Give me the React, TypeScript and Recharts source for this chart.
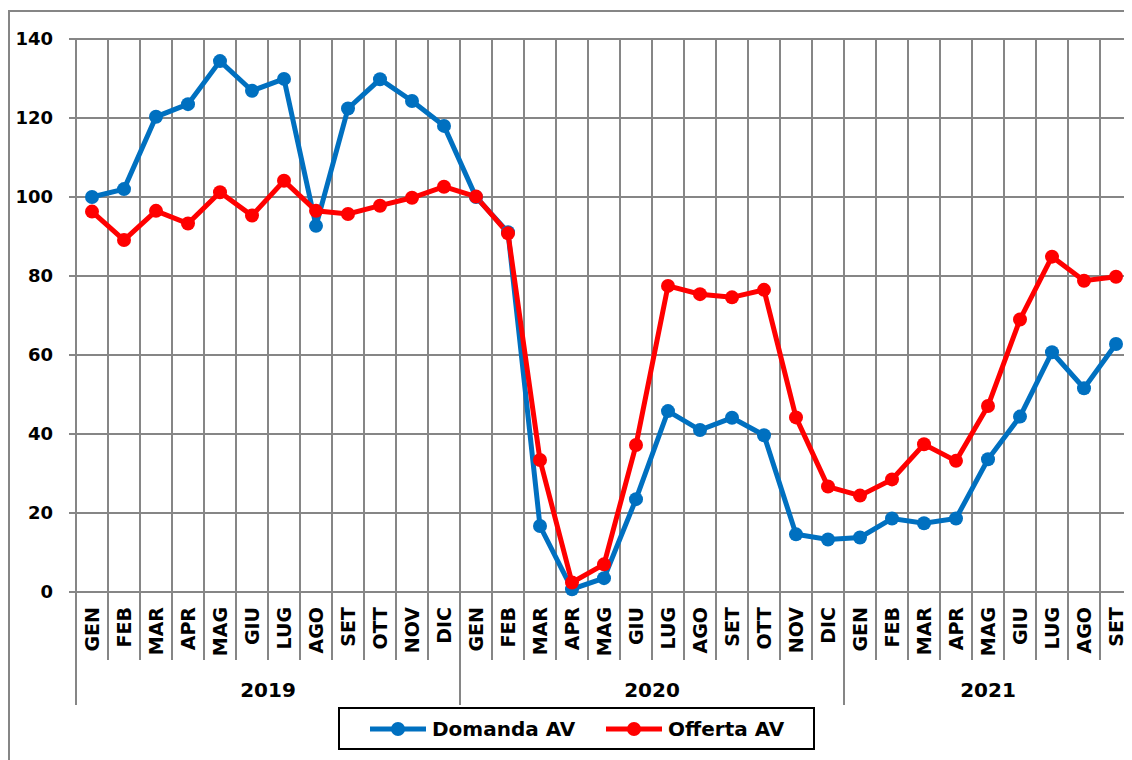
import { LineChart, Line, XAxis, YAxis, CartesianGrid } from 'recharts';

const MESI = [
  'GEN', 'FEB', 'MAR', 'APR', 'MAG', 'GIU', 'LUG', 'AGO', 'SET', 'OTT', 'NOV', 'DIC',
  'GEN', 'FEB', 'MAR', 'APR', 'MAG', 'GIU', 'LUG', 'AGO', 'SET', 'OTT', 'NOV', 'DIC',
  'GEN', 'FEB', 'MAR', 'APR', 'MAG', 'GIU', 'LUG', 'AGO', 'SET',
];

const ANNI = [
  '2019', '2019', '2019', '2019', '2019', '2019', '2019', '2019', '2019', '2019', '2019', '2019',
  '2020', '2020', '2020', '2020', '2020', '2020', '2020', '2020', '2020', '2020', '2020', '2020',
  '2021', '2021', '2021', '2021', '2021', '2021', '2021', '2021', '2021',
];

const DOMANDA = [
  100, 102, 120.3, 123.5, 134.4, 126.9, 129.9, 92.7, 122.4, 129.8, 124.3, 118,
  100, 91.1, 16.7, 0.7, 3.5, 23.5, 45.8, 41, 44.1, 39.7, 14.6, 13.3,
  13.8, 18.6, 17.4, 18.6, 33.6, 44.4, 60.7, 51.6, 62.8,
];

const OFFERTA = [
  96.3, 89.1, 96.5, 93.3, 101.2, 95.3, 104.1, 96.5, 95.7, 97.8, 99.8, 102.6,
  100.1, 90.8, 33.4, 2.4, 7, 37.2, 77.5, 75.4, 74.6, 76.5, 44.2, 26.7,
  24.4, 28.5, 37.4, 33.2, 47.1, 69, 84.9, 78.8, 79.8,
];

const Y_TICKS = [0, 20, 40, 60, 80, 100, 120, 140];

const SERIES = [
  { key: 'domanda', name: 'Domanda AV', color: '#0070C0' },
  { key: 'offerta', name: 'Offerta AV', color: '#FF0000' },
];

const data = MESI.map((m, i) => ({
  mese: m,
  anno: ANNI[i],
  domanda: DOMANDA[i],
  offerta: OFFERTA[i],
}));

// layout
const W = 1124;
const H = 752;
const PLOT_LEFT = 68;
const PLOT_TOP = 31;
const PLOT_W = W - PLOT_LEFT;
const PLOT_BOTTOM = 584;
const BAND = PLOT_W / MESI.length;
const GRID = '#868686';
const FONT = '"DejaVu Sans", Verdana, sans-serif';

const gridX = Array.from({ length: MESI.length + 1 }, (_, i) => PLOT_LEFT + i * BAND);

function MonthTick(props: any) {
  const { x, index, payload } = props;
  const left = x - BAND / 2;
  const isYearStart = index === 0 || ANNI[index] !== ANNI[index - 1];
  const year = ANNI[index];
  const monthsInYear = ANNI.filter((a) => a === year).length;
  return (
    <g>
      <line
        x1={left}
        x2={left}
        y1={PLOT_BOTTOM}
        y2={isYearStart ? PLOT_BOTTOM + 113 : PLOT_BOTTOM + 68}
        stroke={GRID}
        strokeWidth={2}
      />
      <text
        transform={`translate(${x + 7}, ${PLOT_BOTTOM + 15}) rotate(-90)`}
        textAnchor="end"
        fontFamily={FONT}
        fontWeight="bold"
        fontSize={19}
        fill="#000"
      >
        {payload.value}
      </text>
      {isYearStart && (
        <text
          x={left + (monthsInYear * BAND) / 2}
          y={PLOT_BOTTOM + 105}
          textAnchor="middle"
          fontFamily={FONT}
          fontWeight="bold"
          fontSize={20}
          fill="#000"
        >
          {year}
        </text>
      )}
    </g>
  );
}

function LegendBox() {
  return (
    <div
      style={{
        position: 'absolute',
        left: 330,
        top: 699,
        width: 477,
        height: 43,
        border: '2px solid #000',
        boxSizing: 'border-box',
        background: '#fff',
      }}
    >
      <svg width={473} height={39}>
        {SERIES.map((s, i) => {
          const x0 = i === 0 ? 30 : 266;
          return (
            <g key={s.key}>
              <line x1={x0} x2={x0 + 56} y1={20} y2={20} stroke={s.color} strokeWidth={5} />
              <circle cx={x0 + 28} cy={20} r={7} fill={s.color} />
              <text
                x={x0 + 62}
                y={27}
                fontFamily={FONT}
                fontWeight="bold"
                fontSize={20}
                fill="#000"
              >
                {s.name}
              </text>
            </g>
          );
        })}
      </svg>
    </div>
  );
}

export default function App() {
  return (
    <div style={{ position: 'relative', width: W, height: H, background: '#fff' }}>
      <div
        style={{
          position: 'absolute',
          left: 0,
          top: 2,
          width: W + 20,
          height: H + 20,
          borderLeft: `2px solid ${GRID}`,
          borderTop: `2px solid ${GRID}`,
        }}
      />
      <LineChart
        width={W}
        height={H}
        data={data}
        margin={{ top: PLOT_TOP, right: 0, left: 8, bottom: 0 }}
        style={{ position: 'absolute', left: 0, top: 0 }}
      >
        <CartesianGrid stroke={GRID} strokeWidth={2} verticalPoints={gridX} />
        <XAxis
          dataKey="mese"
          interval={0}
          padding={{ left: BAND / 2, right: BAND / 2 }}
          height={H - PLOT_BOTTOM}
          axisLine={{ stroke: GRID, strokeWidth: 2 }}
          tickLine={false}
          tick={<MonthTick />}
        />
        <YAxis
          width={60}
          domain={[0, 140]}
          ticks={Y_TICKS}
          axisLine={false}
          tickSize={7}
          tickMargin={16}
          tickLine={{ stroke: GRID, strokeWidth: 2 }}
          tick={{ fill: '#000', fontSize: 18, fontWeight: 'bold', fontFamily: FONT }}
        />
        {SERIES.map((s) => (
          <Line
            key={s.key}
            type="linear"
            dataKey={s.key}
            name={s.name}
            stroke={s.color}
            strokeWidth={5}
            dot={{ r: 7, fill: s.color, stroke: 'none' }}
            activeDot={false}
            isAnimationActive={false}
          />
        ))}
      </LineChart>
      <LegendBox />
    </div>
  );
}
